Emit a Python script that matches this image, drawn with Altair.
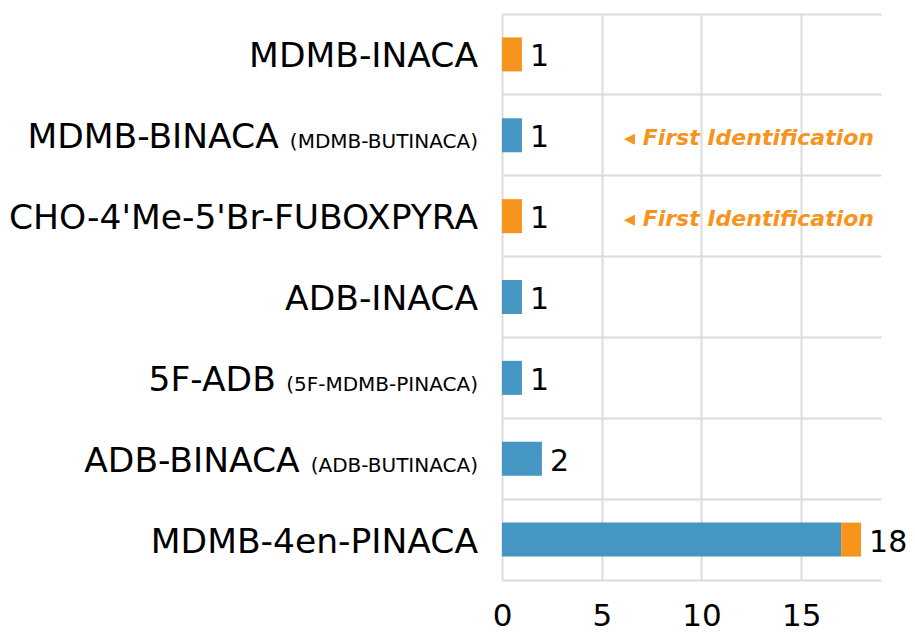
import altair as alt
import pandas as pd

# ---- data ----
names = ["MDMB-INACA", "MDMB-BINACA", "CHO-4'Me-5'Br-FUBOXPYRA", "ADB-INACA",
         "5F-ADB", "ADB-BINACA", "MDMB-4en-PINACA"]
aliases = ["", "MDMB-BUTINACA", "", "", "5F-MDMB-PINACA", "ADB-BUTINACA", ""]
blue_counts = [0, 1, 0, 1, 1, 2, 17]
orange_counts = [1, 0, 1, 0, 0, 0, 1]
notes = ["", "First Identification", "First Identification", "", "", "", ""]
series = ["Series A", "Series B"]
x_ticks = [0, 5, 10, 15]

BLUE = "#4596C3"
ORANGE = "#F7941E"
GRID = "#DCDCDC"
FONT = "DejaVu Sans"
NAME_SIZE = 34.5
ALIAS_SIZE = 20

# approximate DejaVu Sans advance widths (em units) for laying out the two-size labels
_W = {"(": 0.390, ")": 0.390, "-": 0.361, "5": 0.636, "A": 0.684, "B": 0.686,
      "C": 0.698, "D": 0.770, "F": 0.575, "I": 0.295, "M": 0.863, "N": 0.748,
      "P": 0.603, "T": 0.611, "U": 0.732}


def text_width(s, size):
    return sum(_W.get(ch, 0.65) for ch in s) * size


rows = []
for n, b, o in zip(names, blue_counts, orange_counts):
    rows.append({"name": n, "series": series[0], "count": b, "order": 0})
    rows.append({"name": n, "series": series[1], "count": o, "order": 1})
bar_df = pd.DataFrame(rows)

parens = ["(" + a + ")" if a else "" for a in aliases]
lab_df = pd.DataFrame({
    "name": names,
    "paren": parens,
    "total": [b + o for b, o in zip(blue_counts, orange_counts)],
    "note": notes,
})
LABEL_RIGHT = -24
lab_df["nx"] = [LABEL_RIGHT - (text_width(p, ALIAS_SIZE) + 10 if p else 0) for p in parens]

y_enc = alt.Y(
    "name:N", sort=names, title=None,
    scale=alt.Scale(paddingInner=0, paddingOuter=0),
    axis=alt.Axis(labels=False, ticks=False, domain=False, grid=True,
                  bandPosition=0, gridColor=GRID, gridWidth=2),
)
x_scale = alt.Scale(domain=[0, 19], nice=False, zero=True)

bars = alt.Chart(bar_df).transform_filter("datum.count > 0").mark_bar(size=34).encode(
    x=alt.X("count:Q", stack="zero", scale=x_scale, title=None,
            axis=alt.Axis(values=x_ticks, ticks=False, grid=True, gridColor=GRID,
                          gridWidth=2, domainColor=GRID, domainWidth=2,
                          labelFont=FONT, labelFontSize=31, labelColor="black",
                          labelPadding=21, labelFlush=False)),
    y=y_enc,
    color=alt.Color("series:N", scale=alt.Scale(domain=series, range=[BLUE, ORANGE]),
                    legend=None),
    order=alt.Order("order:Q"),
)

values = alt.Chart(lab_df).mark_text(
    align="left", baseline="alphabetic", dx=8, dy=12, font=FONT, fontSize=30, color="black"
).encode(
    x=alt.X("total:Q", scale=x_scale),
    y=y_enc,
    text=alt.Text("total:Q"),
)

note_layer = alt.Chart(lab_df).transform_filter("datum.note != ''").transform_calculate(
    label="'◂ ' + datum.note"
).mark_text(
    align="left", baseline="alphabetic", dy=10, font=FONT, fontSize=22,
    fontStyle="italic", fontWeight="bold", color=ORANGE
).encode(
    x=alt.value(122),
    y=y_enc,
    text="label:N",
)

inner = alt.layer(bars, values, note_layer)

names_main = alt.Chart(lab_df).mark_text(
    align="right", baseline="alphabetic", dy=13, font=FONT, fontSize=NAME_SIZE, color="black"
).encode(
    x=alt.X("nx:Q", scale=None, axis=None),
    y=y_enc,
    text="name:N",
)

names_alias = alt.Chart(lab_df).transform_filter("datum.paren != ''").mark_text(
    align="right", baseline="alphabetic", dy=13, font=FONT, fontSize=ALIAS_SIZE, color="black"
).encode(
    x=alt.value(LABEL_RIGHT),
    y=y_enc,
    text="paren:N",
)

chart = alt.layer(inner, names_main, names_alias).resolve_scale(
    x="independent"
).properties(
    width=379, height=566,
    autosize=alt.AutoSizeParams(type="none"),
    padding={"left": 494, "top": 6, "right": 26, "bottom": 53},
).configure_view(strokeWidth=0)

chart.save("out.html", embed_options={"renderer": "svg", "actions": False})
